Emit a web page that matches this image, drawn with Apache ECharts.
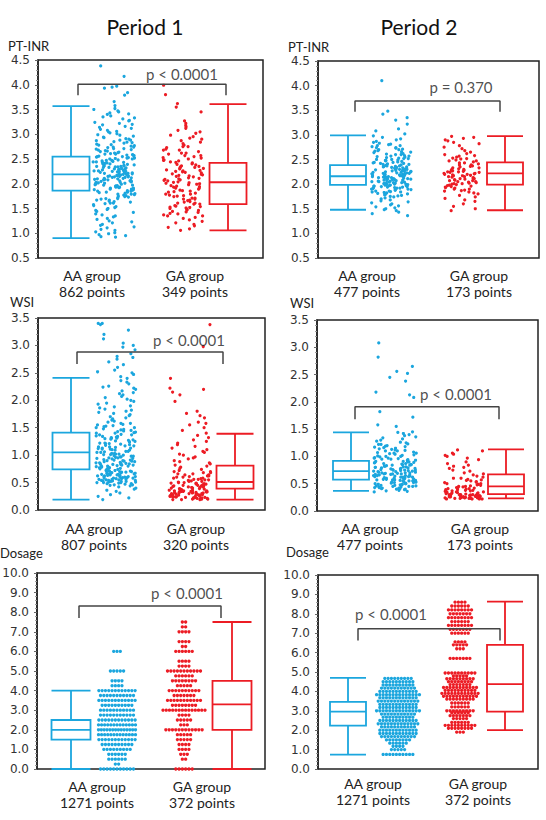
<!DOCTYPE html>
<html><head><meta charset="utf-8">
<script src="https://cdn.jsdelivr.net/npm/echarts@6/dist/echarts.min.js"></script>
<style>html,body{margin:0;padding:0;background:#fff}#c{width:546px;height:820px}</style>
</head><body><div id="c"></div>
<script>
// ---------------- DATA ----------------
const periods = ['Period 1', 'Period 2'];
const groups = ['AA group', 'GA group'];
const measures = ['PT-INR', 'WSI', 'Dosage'];
const nPoints_INR = [[862, 349], [477, 173]];
const nPoints_WSI = [[807, 320], [477, 173]];
const nPoints_DOS = [[1271, 372], [1271, 372]];
const pTexts = ['p < 0.0001', 'p = 0.370', 'p < 0.0001', 'p < 0.0001', 'p < 0.0001', 'p < 0.0001'];

// box stats: [min, Q1, median, Q3, max]
const box_INR_P1_AA = [0.90, 1.86, 2.19, 2.55, 3.57];
const box_INR_P1_GA = [1.06, 1.59, 2.03, 2.42, 3.61];
const box_INR_P2_AA = [1.48, 1.985, 2.16, 2.385, 2.99];
const box_INR_P2_GA = [1.47, 1.99, 2.22, 2.44, 2.975];
const box_WSI_P1_AA = [0.19, 0.74, 1.05, 1.41, 2.41];
const box_WSI_P1_GA = [0.19, 0.39, 0.51, 0.81, 1.39];
const box_WSI_P2_AA = [0.37, 0.575, 0.73, 0.92, 1.44];
const box_WSI_P2_GA = [0.23, 0.31, 0.45, 0.67, 1.13];
const box_DOS_P1_AA = [0, 1.5, 2.0, 2.5, 4.0];
const box_DOS_P1_GA = [0, 2.0, 3.3, 4.5, 7.5];
const box_DOS_P2_AA = [0.74, 2.24, 2.96, 3.46, 4.7];
const box_DOS_P2_GA = [2.0, 2.96, 4.37, 6.4, 8.63];

// individual points (continuous measures)
const pts_INR_P1_AA = [4.38,4.17,3.97,3.95,3.93,3.84,3.79,3.66,3.58,3.52,3.5,3.47,3.45,3.43,3.41,3.4,3.37,3.35,3.33,3.31,3.28,3.27,3.24,3.22,3.2,3.19,3.16,3.14,3.12,3.1,3.08,3.06,3.05,3.03,3.01,2.99,2.98,2.96,2.94,2.93,2.91,2.9,2.88,2.87,2.85,2.84,2.82,2.8,2.79,2.77,2.76,2.74,2.73,2.71,2.7,2.69,2.67,2.66,2.64,2.63,2.62,2.6,2.59,2.58,2.56,2.55,2.54,2.52,2.51,2.5,2.48,2.47,2.46,2.44,2.43,2.42,2.4,2.39,2.38,2.36,2.35,2.34,2.33,2.31,2.3,2.29,2.28,2.26,2.25,2.24,2.23,2.21,2.2,2.19,2.18,2.16,2.15,2.14,2.13,2.11,2.1,2.09,2.08,2.06,2.05,2.04,2.03,2.01,2.0,1.99,1.97,1.96,1.95,1.93,1.92,1.91,1.89,1.88,1.86,1.85,1.83,1.82,1.8,1.79,1.77,1.75,1.74,1.72,1.7,1.69,1.67,1.65,1.63,1.61,1.6,1.58,1.56,1.54,1.52,1.5,1.48,1.46,1.44,1.42,1.39,1.37,1.35,1.33,1.3,1.28,1.25,1.23,1.21,1.18,1.16,1.13,1.11,1.08,1.06,1.03,1.01,0.99,0.97,0.95,0.93,0.92];
const pts_INR_P1_AA_core = [2.88,2.83,2.78,2.74,2.71,2.68,2.65,2.61,2.58,2.55,2.53,2.5,2.47,2.45,2.43,2.41,2.39,2.37,2.35,2.33,2.32,2.3,2.29,2.27,2.26,2.25,2.24,2.22,2.21,2.2,2.19,2.18,2.17,2.16,2.15,2.14,2.12,2.11,2.1,2.09,2.07,2.06,2.05,2.03,2.02,2.0,1.98,1.97,1.95,1.93,1.91,1.89,1.87,1.85,1.83,1.81,1.78,1.76,1.73,1.7,1.67,1.64,1.61,2.23,2.28,2.34,2.4,2.46,2.52,2.6,2.13,2.08,2.01,1.94,1.88,1.79,2.36,2.44,2.57,2.17];
const pts_INR_P1_GA = [3.99,3.8,3.62,3.55,3.45,3.27,3.22,3.18,3.15,3.12,3.08,3.05,3.02,2.98,2.95,2.92,2.9,2.87,2.84,2.81,2.78,2.75,2.73,2.7,2.68,2.65,2.62,2.6,2.57,2.55,2.53,2.5,2.48,2.46,2.44,2.42,2.4,2.38,2.36,2.34,2.32,2.3,2.28,2.26,2.24,2.22,2.2,2.18,2.16,2.14,2.12,2.1,2.08,2.06,2.04,2.02,2.0,1.98,1.96,1.94,1.91,1.89,1.86,1.84,1.81,1.79,1.76,1.74,1.71,1.69,1.66,1.64,1.61,1.59,1.56,1.54,1.52,1.5,1.48,1.46,1.44,1.42,1.4,1.37,1.35,1.32,1.3,1.27,1.24,1.21,1.18,1.15,1.12,1.09,1.06];
const pts_INR_P1_GA_core = [2.75,2.68,2.62,2.57,2.52,2.47,2.43,2.39,2.35,2.31,2.27,2.23,2.19,2.15,2.11,2.07,2.03,1.99,1.95,1.91,1.87,1.83,1.79,1.75,1.71,1.67,1.63,1.59,1.55,1.51,1.47,1.43,1.39,1.35,2.25,2.17,2.09,2.01,1.93,1.85,1.77,1.69,1.61,1.53,2.33];
const pts_INR_P2_AA = [4.1,3.48,3.42,3.35,3.3,3.22,3.12,3.08,3.02,2.98,2.95,2.92,2.9,2.87,2.85,2.83,2.81,2.8,2.78,2.76,2.74,2.73,2.71,2.7,2.68,2.67,2.65,2.64,2.62,2.61,2.6,2.58,2.57,2.56,2.54,2.53,2.52,2.5,2.49,2.48,2.47,2.45,2.44,2.43,2.42,2.41,2.4,2.38,2.37,2.36,2.35,2.34,2.33,2.32,2.31,2.3,2.29,2.28,2.27,2.26,2.25,2.24,2.23,2.22,2.21,2.2,2.19,2.18,2.17,2.16,2.15,2.14,2.13,2.12,2.11,2.1,2.09,2.08,2.07,2.06,2.05,2.04,2.03,2.02,2.01,2.0,1.99,1.98,1.97,1.96,1.95,1.94,1.93,1.92,1.91,1.9,1.89,1.88,1.86,1.85,1.84,1.83,1.81,1.8,1.78,1.77,1.75,1.74,1.72,1.7,1.68,1.66,1.64,1.62,1.6,1.58,1.56,1.54,1.52,1.5,1.48,1.46,1.43,1.4,1.36];
const pts_INR_P2_AA_core = [2.78,2.74,2.7,2.66,2.63,2.6,2.57,2.55,2.52,2.5,2.48,2.46,2.44,2.42,2.4,2.39,2.37,2.36,2.34,2.33,2.31,2.3,2.29,2.27,2.26,2.25,2.24,2.22,2.21,2.2,2.19,2.18,2.17,2.16,2.15,2.14,2.13,2.12,2.11,2.1,2.09,2.08,2.07,2.06,2.05,2.04,2.03,2.02,2.01,2.0,1.99,1.98,1.97,1.96,1.95,1.94,1.93,1.92,1.9,1.88,1.86,1.84,1.82,1.79,1.76,2.35,2.28,2.23,2.18,2.11];
const pts_INR_P2_GA = [2.97,2.95,2.93,2.9,2.88,2.85,2.82,2.78,2.75,2.72,2.68,2.65,2.62,2.6,2.57,2.55,2.53,2.51,2.49,2.47,2.45,2.43,2.41,2.39,2.37,2.35,2.33,2.31,2.3,2.28,2.27,2.25,2.24,2.22,2.21,2.2,2.18,2.17,2.15,2.14,2.12,2.11,2.1,2.08,2.07,2.05,2.04,2.02,2.01,2.0,1.98,1.96,1.94,1.92,1.9,1.88,1.86,1.84,1.82,1.8,1.77,1.74,1.71,1.68,1.65,1.6,1.55,1.5,1.46];
const pts_INR_P2_GA_core = [2.58,2.52,2.47,2.43,2.39,2.36,2.33,2.3,2.28,2.26,2.24,2.22,2.2,2.19,2.17,2.15,2.13,2.11,2.09,2.07,2.05,2.03,2.01,1.99,1.97,1.95,1.93,1.9,1.87,2.25];
const pts_WSI_P1_AA = [3.4,3.4,3.38,3.28,3.2,3.12,3.04,3.0,2.97,2.92,2.85,2.8,2.78,2.75,2.7,2.65,2.6,2.55,2.52,2.5,2.47,2.43,2.4,2.36,2.33,2.3,2.26,2.24,2.22,2.2,2.17,2.14,2.12,2.1,2.07,2.05,2.02,2.0,1.98,1.95,1.93,1.9,1.88,1.86,1.84,1.82,1.8,1.78,1.76,1.74,1.72,1.7,1.68,1.66,1.64,1.62,1.6,1.58,1.56,1.55,1.53,1.52,1.5,1.48,1.47,1.45,1.44,1.42,1.41,1.4,1.38,1.37,1.35,1.34,1.32,1.31,1.3,1.28,1.27,1.25,1.24,1.22,1.21,1.2,1.18,1.17,1.15,1.14,1.13,1.11,1.1,1.09,1.07,1.06,1.05,1.03,1.02,1.01,1.0,0.98,0.97,0.96,0.95,0.94,0.92,0.91,0.9,0.89,0.88,0.86,0.85,0.84,0.83,0.82,0.81,0.8,0.79,0.78,0.77,0.76,0.75,0.74,0.73,0.72,0.71,0.7,0.69,0.68,0.67,0.66,0.65,0.64,0.63,0.62,0.61,0.6,0.59,0.58,0.57,0.56,0.55,0.54,0.53,0.52,0.51,0.5,0.48,0.46,0.44,0.42,0.4,0.38,0.36,0.34,0.31,0.28,0.25,0.22,0.19];
const pts_WSI_P1_AA_core = [1.58,1.54,1.5,1.46,1.43,1.4,1.37,1.34,1.31,1.29,1.26,1.24,1.21,1.19,1.17,1.15,1.13,1.11,1.09,1.07,1.05,1.03,1.01,0.99,0.97,0.95,0.93,0.91,0.89,0.87,0.86,0.84,0.83,0.81,0.8,0.79,0.77,0.76,0.75,0.73,0.72,0.71,0.7,0.69,0.68,0.67,0.66,0.65,0.64,0.63,0.62,0.61,0.6,0.59,0.58,0.57,0.56,0.55,0.54,0.53,0.52,0.51,0.5,0.49,0.48,0.47,0.46,0.45,1.12,1.02,0.94,0.88,0.82,0.78,0.74,0.71,0.68,0.66,0.63,0.61,0.58,0.56,0.54,0.52,0.5,1.22,1.33,0.98,0.9,0.85];
const pts_WSI_P1_GA = [3.38,2.98,2.4,2.22,2.2,2.15,2.1,1.98,1.8,1.76,1.72,1.68,1.6,1.58,1.55,1.5,1.45,1.4,1.36,1.32,1.28,1.25,1.22,1.19,1.16,1.13,1.1,1.07,1.05,1.02,1.0,0.97,0.95,0.93,0.9,0.88,0.86,0.84,0.82,0.8,0.78,0.76,0.74,0.72,0.7,0.68,0.66,0.64,0.62,0.61,0.6,0.58,0.57,0.56,0.55,0.54,0.52,0.51,0.5,0.49,0.48,0.47,0.46,0.45,0.44,0.43,0.42,0.41,0.4,0.39,0.38,0.37,0.36,0.35,0.34,0.33,0.32,0.31,0.3,0.29,0.28,0.27,0.26,0.25,0.24,0.23,0.22,0.21,0.2,0.19];
const pts_WSI_P1_GA_core = [0.7,0.68,0.66,0.64,0.62,0.6,0.58,0.56,0.55,0.53,0.52,0.5,0.49,0.48,0.47,0.46,0.45,0.44,0.43,0.42,0.41,0.4,0.39,0.38,0.37,0.36,0.35,0.35,0.34,0.34,0.33,0.33,0.32,0.32,0.31,0.31,0.3,0.3,0.29,0.29,0.28,0.28,0.27,0.27,0.26,0.26,0.25,0.25,0.24,0.24,0.23,0.23,0.22,0.22,0.21,0.21,0.2,0.2,0.19,0.19];
const pts_WSI_P2_AA = [3.08,2.82,2.65,2.56,2.52,2.45,2.38,2.18,2.13,2.08,1.82,1.72,1.58,1.55,1.45,1.44,1.42,1.4,1.38,1.36,1.34,1.32,1.3,1.28,1.26,1.25,1.23,1.22,1.2,1.19,1.17,1.16,1.15,1.13,1.12,1.11,1.1,1.08,1.07,1.06,1.05,1.04,1.02,1.01,1.0,0.99,0.98,0.97,0.96,0.95,0.94,0.93,0.92,0.91,0.9,0.89,0.88,0.87,0.86,0.85,0.84,0.83,0.82,0.81,0.8,0.79,0.78,0.77,0.76,0.75,0.74,0.73,0.72,0.71,0.7,0.69,0.68,0.67,0.66,0.65,0.64,0.63,0.62,0.61,0.6,0.59,0.58,0.57,0.56,0.55,0.54,0.53,0.52,0.51,0.5,0.49,0.48,0.47,0.46,0.45,0.44,0.43,0.42,0.41,0.4,0.39,0.38,0.37,0.36,0.35];
const pts_WSI_P2_AA_core = [1.22,1.18,1.14,1.1,1.06,1.03,1.0,0.97,0.95,0.93,0.91,0.89,0.87,0.85,0.84,0.82,0.81,0.79,0.78,0.77,0.76,0.75,0.74,0.73,0.72,0.71,0.7,0.69,0.68,0.67,0.66,0.65,0.64,0.63,0.62,0.61,0.6,0.59,0.58,0.57,0.56,0.55,0.54,0.53,0.52,0.51,0.5,0.49,0.48,0.47,0.46,0.45,0.44,0.43,0.42,0.41,0.4,0.75,0.7,0.65,0.6,0.55,0.5,0.45,0.8,0.85,0.9,0.68,0.62,0.57];
const pts_WSI_P2_GA = [1.12,1.1,1.06,1.04,1.02,1.0,0.97,0.94,0.9,0.87,0.84,0.82,0.8,0.78,0.75,0.73,0.7,0.68,0.66,0.64,0.62,0.6,0.58,0.57,0.55,0.54,0.52,0.5,0.49,0.48,0.46,0.45,0.44,0.43,0.42,0.41,0.4,0.39,0.38,0.37,0.36,0.35,0.34,0.33,0.32,0.31,0.3,0.3,0.29,0.29,0.28,0.28,0.27,0.27,0.26,0.26,0.25,0.25,0.24,0.24,0.23,0.23,0.22,0.22];
const pts_WSI_P2_GA_core = [0.6,0.56,0.53,0.5,0.47,0.45,0.43,0.41,0.39,0.37,0.36,0.35,0.34,0.33,0.32,0.31,0.3,0.3,0.29,0.29,0.28,0.28,0.27,0.27,0.26,0.26,0.25,0.25,0.24,0.24,0.23,0.23,0.22,0.22,0.38];

// dosage (discrete levels) : level values and number of visible points per level
const dos_P1_AA_levels = [0,0.25,0.5,0.75,1,1.25,1.5,1.75,2,2.25,2.5,2.75,3,3.25,3.5,3.75,4,4.25,4.5,5,6];
const dos_P1_AA_counts = [11,2,6,6,9,10,12,13,14,13,12,11,11,10,12,11,12,4,4,5,3];
const dos_P1_GA_levels = [0,0.5,0.75,1,1.25,1.5,1.75,2,2.25,2.5,2.75,3,3.25,3.5,3.75,4,4.25,4.5,4.75,5,5.25,5.5,6,6.25,6.5,7,7.25,7.5];
const dos_P1_GA_counts = [6,2,3,4,4,5,5,12,3,5,4,14,8,11,7,10,5,8,6,11,4,4,6,2,4,4,2,2];
const dos_P2_AA_levels = [0.75,1.0,1.17,1.33,1.5,1.67,1.83,2.0,2.17,2.33,2.5,2.67,2.83,3.0,3.17,3.33,3.5,3.67,3.83,4.0,4.17,4.33,4.5,4.67];
const dos_P2_AA_counts = [10,5,4,6,8,11,12,12,11,13,12,10,11,14,12,12,13,12,14,12,11,10,10,9];
const dos_P2_GA_levels = [1.9,2.1,2.25,2.4,2.6,2.75,2.9,3.0,3.2,3.4,3.6,3.75,3.9,4.05,4.2,4.35,4.5,4.65,4.8,4.95,5.7,6.2,6.4,6.55,7.0,7.2,7.4,7.6,7.8,8.0,8.2,8.4,8.6];
const dos_P2_GA_counts = [3,8,10,6,5,7,6,9,6,6,9,11,12,10,11,7,8,9,5,10,7,3,5,4,6,7,8,6,8,7,8,6,4];

// ---------------- LAYOUT ----------------
const BLUE = '#1BA6DE', RED = '#EC1C24';
const FONT = 'Lato, "Open Sans", sans-serif';
const panels = [
  {L:38,T:60,R:263,B:258, ymin:0.5,ymax:4.5,yint:0.5, boxAA:71,boxGA:228,boxW:37, sAA:114,wAA:42,sGA:183,wGA:41, brX1:78,brX2:226,brTop:4.01,brDrop:3.79, textX:182,textY:4.21, labAA:92,labGA:195,labY:275, nameX:8,nameY:46,
   boxes:[box_INR_P1_AA, box_INR_P1_GA], pts:[pts_INR_P1_AA.concat(pts_INR_P1_AA_core), pts_INR_P1_GA.concat(pts_INR_P1_GA_core)], n:nPoints_INR[0], name:measures[0]},
  {L:318,T:61,R:539,B:258, ymin:0.5,ymax:4.5,yint:0.5, boxAA:348,boxGA:505,boxW:36, sAA:391,wAA:40,sGA:462,wGA:36, brX1:355,brX2:500,brTop:3.69,brDrop:3.47, textX:461,textY:3.97, labAA:367,labGA:479,labY:275, nameX:288,nameY:47,
   boxes:[box_INR_P2_AA, box_INR_P2_GA], pts:[pts_INR_P2_AA.concat(pts_INR_P2_AA_core), pts_INR_P2_GA.concat(pts_INR_P2_GA_core)], n:nPoints_INR[1], name:measures[0]},
  {L:38,T:318,R:265,B:510, ymin:0,ymax:3.5,yint:0.5, boxAA:71,boxGA:235,boxW:37, sAA:116,wAA:40,sGA:190,wGA:42, brX1:77,brX2:223,brTop:2.88,brDrop:2.66, textX:189,textY:3.1, labAA:94,labGA:196,labY:528, nameX:10,nameY:302,
   boxes:[box_WSI_P1_AA, box_WSI_P1_GA], pts:[pts_WSI_P1_AA.concat(pts_WSI_P1_AA_core), pts_WSI_P1_GA.concat(pts_WSI_P1_GA_core)], n:nPoints_WSI[0], name:measures[1]},
  {L:317,T:320,R:538,B:511, ymin:0,ymax:3.5,yint:0.5, boxAA:351,boxGA:506,boxW:36, sAA:395,wAA:43,sGA:464,wGA:39, brX1:355,brX2:499,brTop:1.91,brDrop:1.68, textX:456,textY:2.15, labAA:370,labGA:480,labY:528, nameX:290,nameY:303,
   boxes:[box_WSI_P2_AA, box_WSI_P2_GA], pts:[pts_WSI_P2_AA.concat(pts_WSI_P2_AA_core), pts_WSI_P2_GA.concat(pts_WSI_P2_GA_core)], n:nPoints_WSI[1], name:measures[1]},
  {L:37,T:573,R:265,B:769, ymin:0,ymax:10,yint:1, boxAA:71,boxGA:232,boxW:39, sAA:117,wAA:37,sGA:184,wGA:42, brX1:79,brX2:221,brTop:8.32,brDrop:7.7, textX:187,textY:9.0, labAA:97,labGA:202,labY:786, nameX:0,nameY:553,
   boxes:[box_DOS_P1_AA, box_DOS_P1_GA], lv:[[dos_P1_AA_levels,dos_P1_AA_counts],[dos_P1_GA_levels,dos_P1_GA_counts]], n:nPoints_DOS[0], name:measures[2]},
  {L:318,T:575,R:538,B:769, ymin:0,ymax:10,yint:1, boxAA:348,boxGA:505,boxW:36, sAA:398,wAA:44,sGA:460,wGA:47, brX1:358,brX2:500,brTop:7.23,brDrop:6.63, textX:391,textY:8.0, labAA:373,labGA:478,labY:783, nameX:286,nameY:552,
   boxes:[box_DOS_P2_AA, box_DOS_P2_GA], lv:[[dos_P2_AA_levels,dos_P2_AA_counts],[dos_P2_GA_levels,dos_P2_GA_counts]], n:nPoints_DOS[1], name:measures[2]}
];

// deterministic horizontal spread (layout only; values are untouched)
function spread(i, seed) {
  const s = Math.sin(i * 12.9898 + seed * 78.233) * 43758.5453;
  return s - Math.floor(s);
}
function jitter(vals, cx, w, seed) {
  return vals.map((v, i) => [cx + (spread(i, seed) - 0.5) * w, v]);
}
function swarm(levels, counts, cx, w, step) {
  const out = [];
  levels.forEach((v, k) => {
    const n = counts[k];
    const width = Math.min((n - 1) * step, w);
    for (let j = 0; j < n; j++) {
      out.push([cx - width / 2 + (n > 1 ? j * width / (n - 1) : 0), v]);
    }
  });
  return out;
}

const option = { animation: false, backgroundColor: '#fff', grid: [], xAxis: [], yAxis: [], series: [], graphic: [] };

function txt(text, x, y, size, align, color) {
  option.graphic.push({ type: 'text', x: x, y: y, silent: true,
    style: { text: text, font: size + 'px ' + FONT, fill: color || '#222',
      textAlign: align || 'center', align: align || 'center', textVerticalAlign: 'middle', verticalAlign: 'middle' } });
}

txt(periods[0], 145, 26, 21, 'center', '#111');
txt(periods[1], 419, 26, 21, 'center', '#111');

panels.forEach((p, k) => {
  const W = p.R - p.L, H = p.B - p.T;
  const gi = option.grid.length;
  option.grid.push({ left: p.L, top: p.T, width: W, height: H, show: true, borderColor: '#222', borderWidth: 1.5, backgroundColor: 'transparent', containLabel: false, outerBoundsMode: 'none' });
  option.xAxis.push({ type: 'value', gridIndex: gi, min: 0, max: W, show: false });
  option.yAxis.push({ type: 'value', gridIndex: gi, min: p.ymin, max: p.ymax, interval: p.yint,
    axisLine: { show: true, lineStyle: { color: '#222', width: 1.5 } },
    axisTick: { show: true, length: 3, lineStyle: { color: '#666' } },
    minorTick: { show: true, splitNumber: 5, length: 2, lineStyle: { color: '#999' } },
    splitLine: { show: false },
    axisLabel: { margin: 8, fontFamily: '"DejaVu Sans"', fontSize: 12, color: '#333', formatter: v => v.toFixed(1), hideOverlap: false } });
  const bw = (p.boxGA - p.boxAA) * 1.5;
  option.grid.push({ left: p.boxAA - bw / 6, top: p.T, width: bw, height: H, show: false, containLabel: false, outerBoundsMode: 'none' });
  option.xAxis.push({ type: 'category', gridIndex: gi + 1, data: [groups[0], '', groups[1]], show: false });
  option.yAxis.push({ type: 'value', gridIndex: gi + 1, min: p.ymin, max: p.ymax, show: false });

  option.series.push({ type: 'boxplot', xAxisIndex: gi + 1, yAxisIndex: gi + 1, silent: true,
    boxWidth: [p.boxW, p.boxW],
    itemStyle: { color: 'transparent', borderWidth: 1.8 },
    data: [
      { value: p.boxes[0], itemStyle: { borderColor: BLUE, color: 'transparent', borderWidth: 1.8 } },
      '-',
      { value: p.boxes[1], itemStyle: { borderColor: RED, color: 'transparent', borderWidth: 1.8 } }
    ] });

  let aa, ga, size;
  if (p.pts) {
    aa = jitter(p.pts[0], p.sAA - p.L, p.wAA, k * 2 + 1);
    ga = jitter(p.pts[1], p.sGA - p.L, p.wGA, k * 2 + 2);
    size = 3.2;
  } else {
    aa = swarm(p.lv[0][0], p.lv[0][1], p.sAA - p.L, p.wAA, 3.3);
    ga = swarm(p.lv[1][0], p.lv[1][1], p.sGA - p.L, p.wGA, 3.3);
    size = 3.3;
  }
  option.series.push({ type: 'scatter', xAxisIndex: gi, yAxisIndex: gi, silent: true, symbolSize: size, itemStyle: { color: BLUE, opacity: 1 }, data: aa, clip: false });
  option.series.push({ type: 'scatter', xAxisIndex: gi, yAxisIndex: gi, silent: true, symbolSize: size, itemStyle: { color: RED, opacity: 1 }, data: ga, clip: false });

  option.series.push({ type: 'line', xAxisIndex: gi, yAxisIndex: gi, silent: true, symbol: 'none',
    lineStyle: { color: '#444', width: 1.5 },
    data: [[p.brX1 - p.L, p.brDrop], [p.brX1 - p.L, p.brTop], [p.brX2 - p.L, p.brTop], [p.brX2 - p.L, p.brDrop]] });
  option.series.push({ type: 'scatter', xAxisIndex: gi, yAxisIndex: gi, silent: true, symbolSize: 0,
    data: [[p.textX - p.L, p.textY]],
    label: { show: true, position: 'inside', formatter: pTexts[k], fontFamily: FONT, fontSize: 15, color: '#222' } });

  txt(p.name, p.nameX, p.nameY, 13, 'left', '#222');
  txt(groups[0], p.labAA, p.labY, 14, 'center', '#222');
  txt(groups[1], p.labGA, p.labY, 14, 'center', '#222');
  txt(p.n[0] + ' points', p.labAA, p.labY + 16, 14, 'center', '#222');
  txt(p.n[1] + ' points', p.labGA, p.labY + 16, 14, 'center', '#222');
});

const chart = echarts.init(document.getElementById('c'), null, { renderer: 'svg' });
chart.setOption(option);
</script>
</body></html>
